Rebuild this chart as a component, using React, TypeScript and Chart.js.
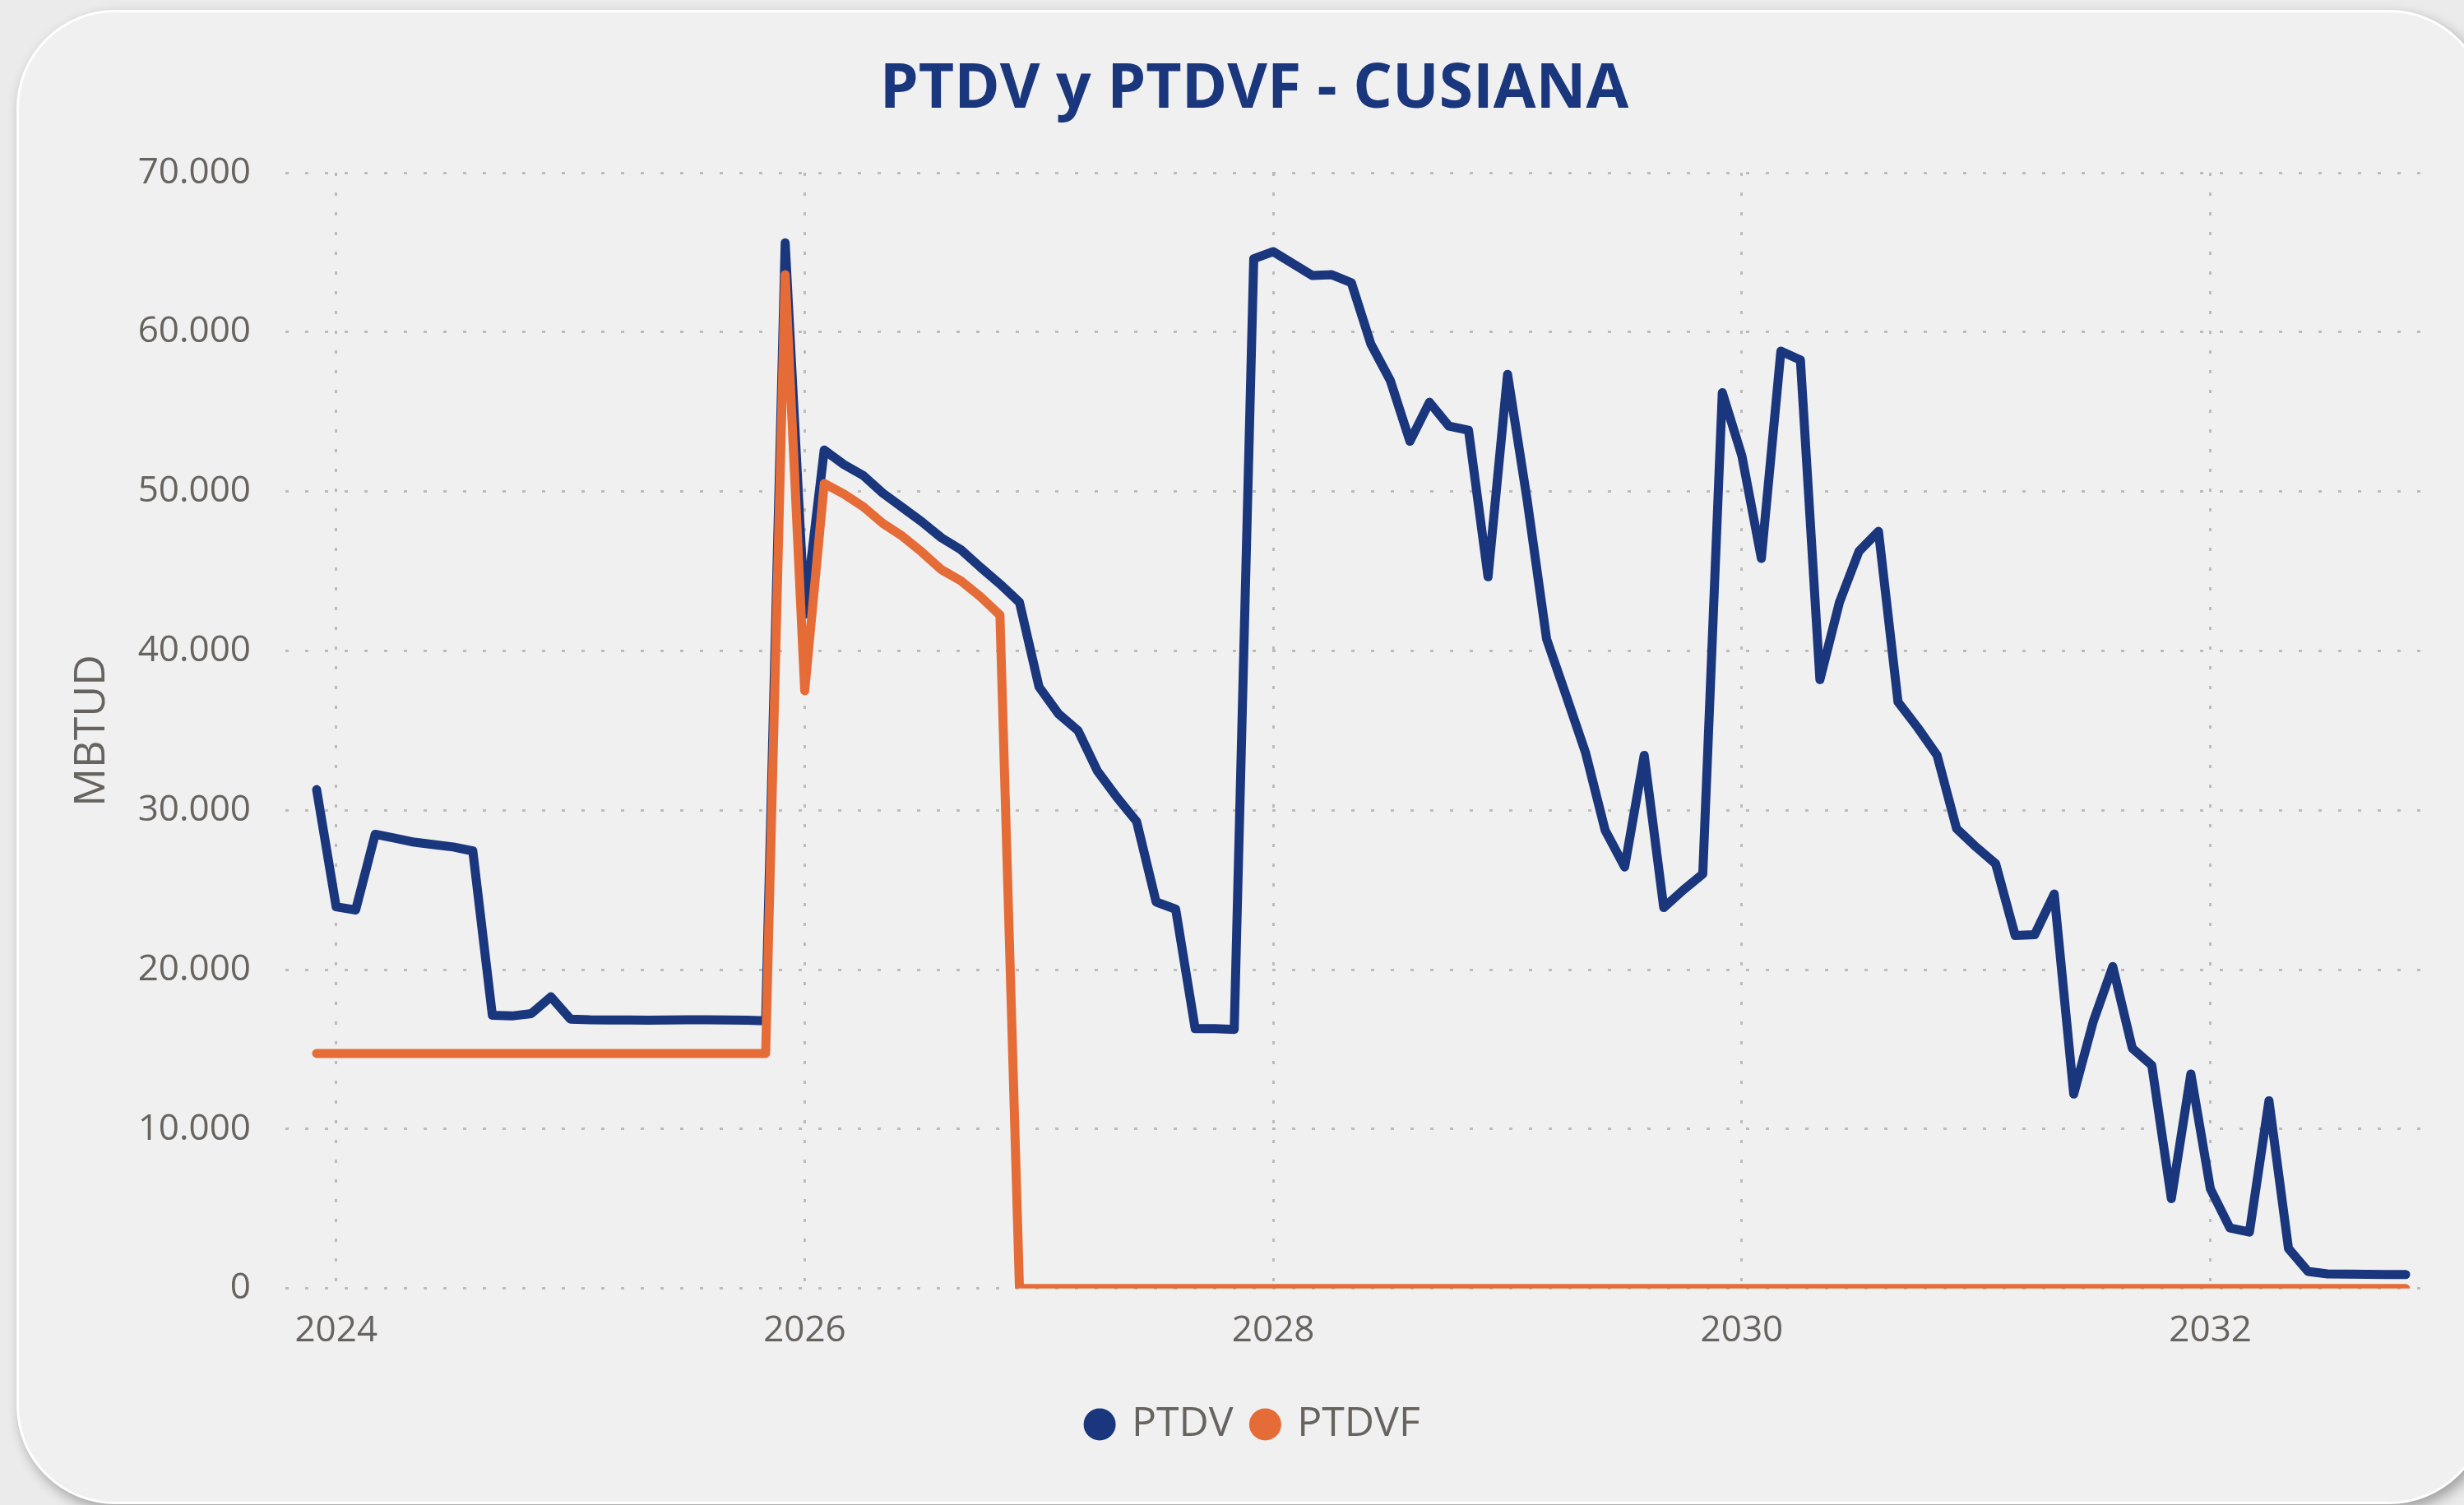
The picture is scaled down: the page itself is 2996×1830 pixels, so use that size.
import { useEffect, useRef } from 'react';
import { Chart, registerables } from 'chart.js';

Chart.register(...registerables);

// Monthly periods (YYYY-MM)
const months: string[] = [
  '2023-12',
  '2024-01', '2024-02', '2024-03', '2024-04', '2024-05', '2024-06', '2024-07', '2024-08', '2024-09', '2024-10', '2024-11', '2024-12',
  '2025-01', '2025-02', '2025-03', '2025-04', '2025-05', '2025-06', '2025-07', '2025-08', '2025-09', '2025-10', '2025-11', '2025-12',
  '2026-01', '2026-02', '2026-03', '2026-04', '2026-05', '2026-06', '2026-07', '2026-08', '2026-09', '2026-10', '2026-11', '2026-12',
  '2027-01', '2027-02', '2027-03', '2027-04', '2027-05', '2027-06', '2027-07', '2027-08', '2027-09', '2027-10', '2027-11', '2027-12',
  '2028-01', '2028-02', '2028-03', '2028-04', '2028-05', '2028-06', '2028-07', '2028-08', '2028-09', '2028-10', '2028-11', '2028-12',
  '2029-01', '2029-02', '2029-03', '2029-04', '2029-05', '2029-06', '2029-07', '2029-08', '2029-09', '2029-10', '2029-11', '2029-12',
  '2030-01', '2030-02', '2030-03', '2030-04', '2030-05', '2030-06', '2030-07', '2030-08', '2030-09', '2030-10', '2030-11', '2030-12',
  '2031-01', '2031-02', '2031-03', '2031-04', '2031-05', '2031-06', '2031-07', '2031-08', '2031-09', '2031-10', '2031-11', '2031-12',
  '2032-01', '2032-02', '2032-03', '2032-04', '2032-05', '2032-06', '2032-07', '2032-08', '2032-09', '2032-10', '2032-11',
];

// PTDV (MBTUD)
const ptdv: number[] = [
  31300,
  23950, 23750, 28500, 28250, 28000, 27850, 27700, 27450, 17150, 17100, 17250, 18300,
  16900, 16860, 16850, 16850, 16840, 16850, 16860, 16860, 16850, 16830, 16800, 65600,
  42300, 52600, 51700, 51000, 49900, 49000, 48100, 47100, 46350, 45250, 44200, 43050,
  37750, 36050, 35000, 32450, 30800, 29300, 24250, 23800, 16300, 16300, 16250, 64600,
  65050, 64300, 63550, 63600, 63100, 59250, 56950, 53150, 55600, 54100, 53850, 44650,
  57350, 49500, 40750, 37200, 33600, 28750, 26450, 33450, 23900, 25000, 26000, 56200,
  52250, 45800, 58800, 58250, 38200, 43050, 46250, 47500, 36800, 35200, 33450, 28850,
  27700, 26650, 22150, 22200, 24750, 12200, 16750, 20200, 15080, 14000, 5640, 13460,
  6250, 3800, 3540, 11780, 2510, 1070, 920, 900, 890, 880, 880,
];

// PTDVF (MBTUD)
const ptdvf: number[] = [
  14750,
  14750, 14750, 14750, 14750, 14750, 14750, 14750, 14750, 14750, 14750, 14750, 14750,
  14750, 14750, 14750, 14750, 14750, 14750, 14750, 14750, 14750, 14750, 14750, 63600,
  37500, 50500, 49850, 49050, 48000, 47200, 46200, 45100, 44400, 43400, 42250, 0,
  0, 0, 0, 0, 0, 0, 0, 0, 0, 0, 0, 0,
  0, 0, 0, 0, 0, 0, 0, 0, 0, 0, 0, 0,
  0, 0, 0, 0, 0, 0, 0, 0, 0, 0, 0, 0,
  0, 0, 0, 0, 0, 0, 0, 0, 0, 0, 0, 0,
  0, 0, 0, 0, 0, 0, 0, 0, 0, 0, 0, 0,
  0, 0, 0, 0, 0, 0, 0, 0, 0, 0, 0,
];

const yearTicks: string[] = ['2024', '2026', '2028', '2030', '2032'];

const BLUE = '#1a367d';
const ORANGE = '#e66c37';
const GREY = '#67635f';
const GRID = '#bebcba';
const FONT = "'Open Sans', 'Noto Sans', sans-serif";

const toIndex = (m: string) => {
  const [y, mo] = m.split('-').map(Number);
  return (y - 2024) * 12 + (mo - 1);
};
const yearTickValues = yearTicks.map((y) => toIndex(`${y}-01`));
const fmt = (v: number) => String(Math.round(v)).replace(/\B(?=(\d{3})+(?!\d))/g, '.');

export default function App() {
  const ref = useRef<HTMLCanvasElement>(null);

  useEffect(() => {
    if (!ref.current) return;
    const chart = new Chart(ref.current, {
      type: 'line',
      data: {
        datasets: [
          {
            label: 'PTDV',
            data: months.map((m, i) => ({ x: toIndex(m), y: ptdv[i] })),
            borderColor: BLUE,
            backgroundColor: BLUE,
            borderWidth: 11,
            pointRadius: 0,
            tension: 0,
            borderCapStyle: 'round',
            borderJoinStyle: 'round',
            order: 1,
          },
          {
            label: 'PTDVF',
            data: months.map((m, i) => ({ x: toIndex(m), y: ptdvf[i] })),
            borderColor: ORANGE,
            backgroundColor: ORANGE,
            borderWidth: 11,
            pointRadius: 0,
            tension: 0,
            borderCapStyle: 'round',
            borderJoinStyle: 'round',
            order: 0,
          },
        ],
      },
      options: {
        responsive: false,
        animation: false,
        devicePixelRatio: 1,
        layout: { padding: { left: 87, right: 33, top: 0, bottom: 63 } },
        plugins: {
          title: {
            display: true,
            text: 'PTDV y PTDVF - CUSIANA',
            color: BLUE,
            font: { family: FONT, size: 75, weight: 'bold', lineHeight: 1.2 },
            padding: { top: 65, bottom: 55 },
          },
          legend: {
            position: 'bottom',
            labels: {
              usePointStyle: true,
              pointStyle: 'circle',
              boxWidth: 27.6,
              boxHeight: 27.6,
              padding: 25,
              color: GREY,
              font: { family: FONT, size: 50 },
              sort: (a: any, b: any) => a.datasetIndex - b.datasetIndex,
              generateLabels: (c: any) =>
                Chart.defaults.plugins.legend.labels
                  .generateLabels(c)
                  .map((l: any) => ({ ...l, lineWidth: 0 })),
            },
          },
          tooltip: { enabled: false },
        },
        scales: {
          x: {
            type: 'linear',
            min: -2.6,
            max: 107.6,
            afterBuildTicks: (s: any) => {
              s.ticks = yearTickValues.map((v) => ({ value: v }));
            },
            afterFit: (s: any) => {
              s.height = 115.2;
            },
            ticks: {
              autoSkip: false,
              maxRotation: 0,
              padding: 25,
              color: GREY,
              font: { family: FONT, size: 44 },
              callback: (v: any) => {
                const i = yearTickValues.indexOf(Number(v));
                return i >= 0 ? yearTicks[i] : '';
              },
            },
            grid: { color: GRID, lineWidth: 3, drawTicks: false },
            border: { display: false, dash: [4, 20] },
          },
          y: {
            min: 0,
            max: 70000,
            afterFit: (s: any) => {
              s.width = 260;
            },
            ticks: {
              stepSize: 10000,
              padding: 42,
              color: GREY,
              font: { family: FONT, size: 44 },
              callback: (v: any) => fmt(Number(v)),
            },
            title: {
              display: true,
              text: 'MBTUD',
              color: GREY,
              font: { family: FONT, size: 52, lineHeight: 0.9 },
              padding: { top: 2, bottom: 0 },
            },
            grid: { color: GRID, lineWidth: 3, drawTicks: false },
            border: { display: false, dash: [4, 20] },
          },
        },
      },
    } as any);
    return () => chart.destroy();
  }, []);

  return (
    <div
      style={{
        position: 'fixed',
        left: 0,
        top: 0,
        width: 2996,
        height: 1830,
        overflow: 'hidden',
        background: '#ebebeb',
      }}
    >
      <div
        style={{
          position: 'absolute',
          left: 20,
          top: 12,
          width: 3005,
          height: 1817,
          boxSizing: 'border-box',
          border: '3px solid #ffffff',
          borderRadius: 120,
          background: '#f0f0f0',
          boxShadow: '5px 7px 16px rgba(0,0,0,0.32)',
        }}
      />
      <canvas
        ref={ref}
        width={2996}
        height={1830}
        style={{ position: 'absolute', left: 0, top: 0, width: 2996, height: 1830 }}
      />
    </div>
  );
}
